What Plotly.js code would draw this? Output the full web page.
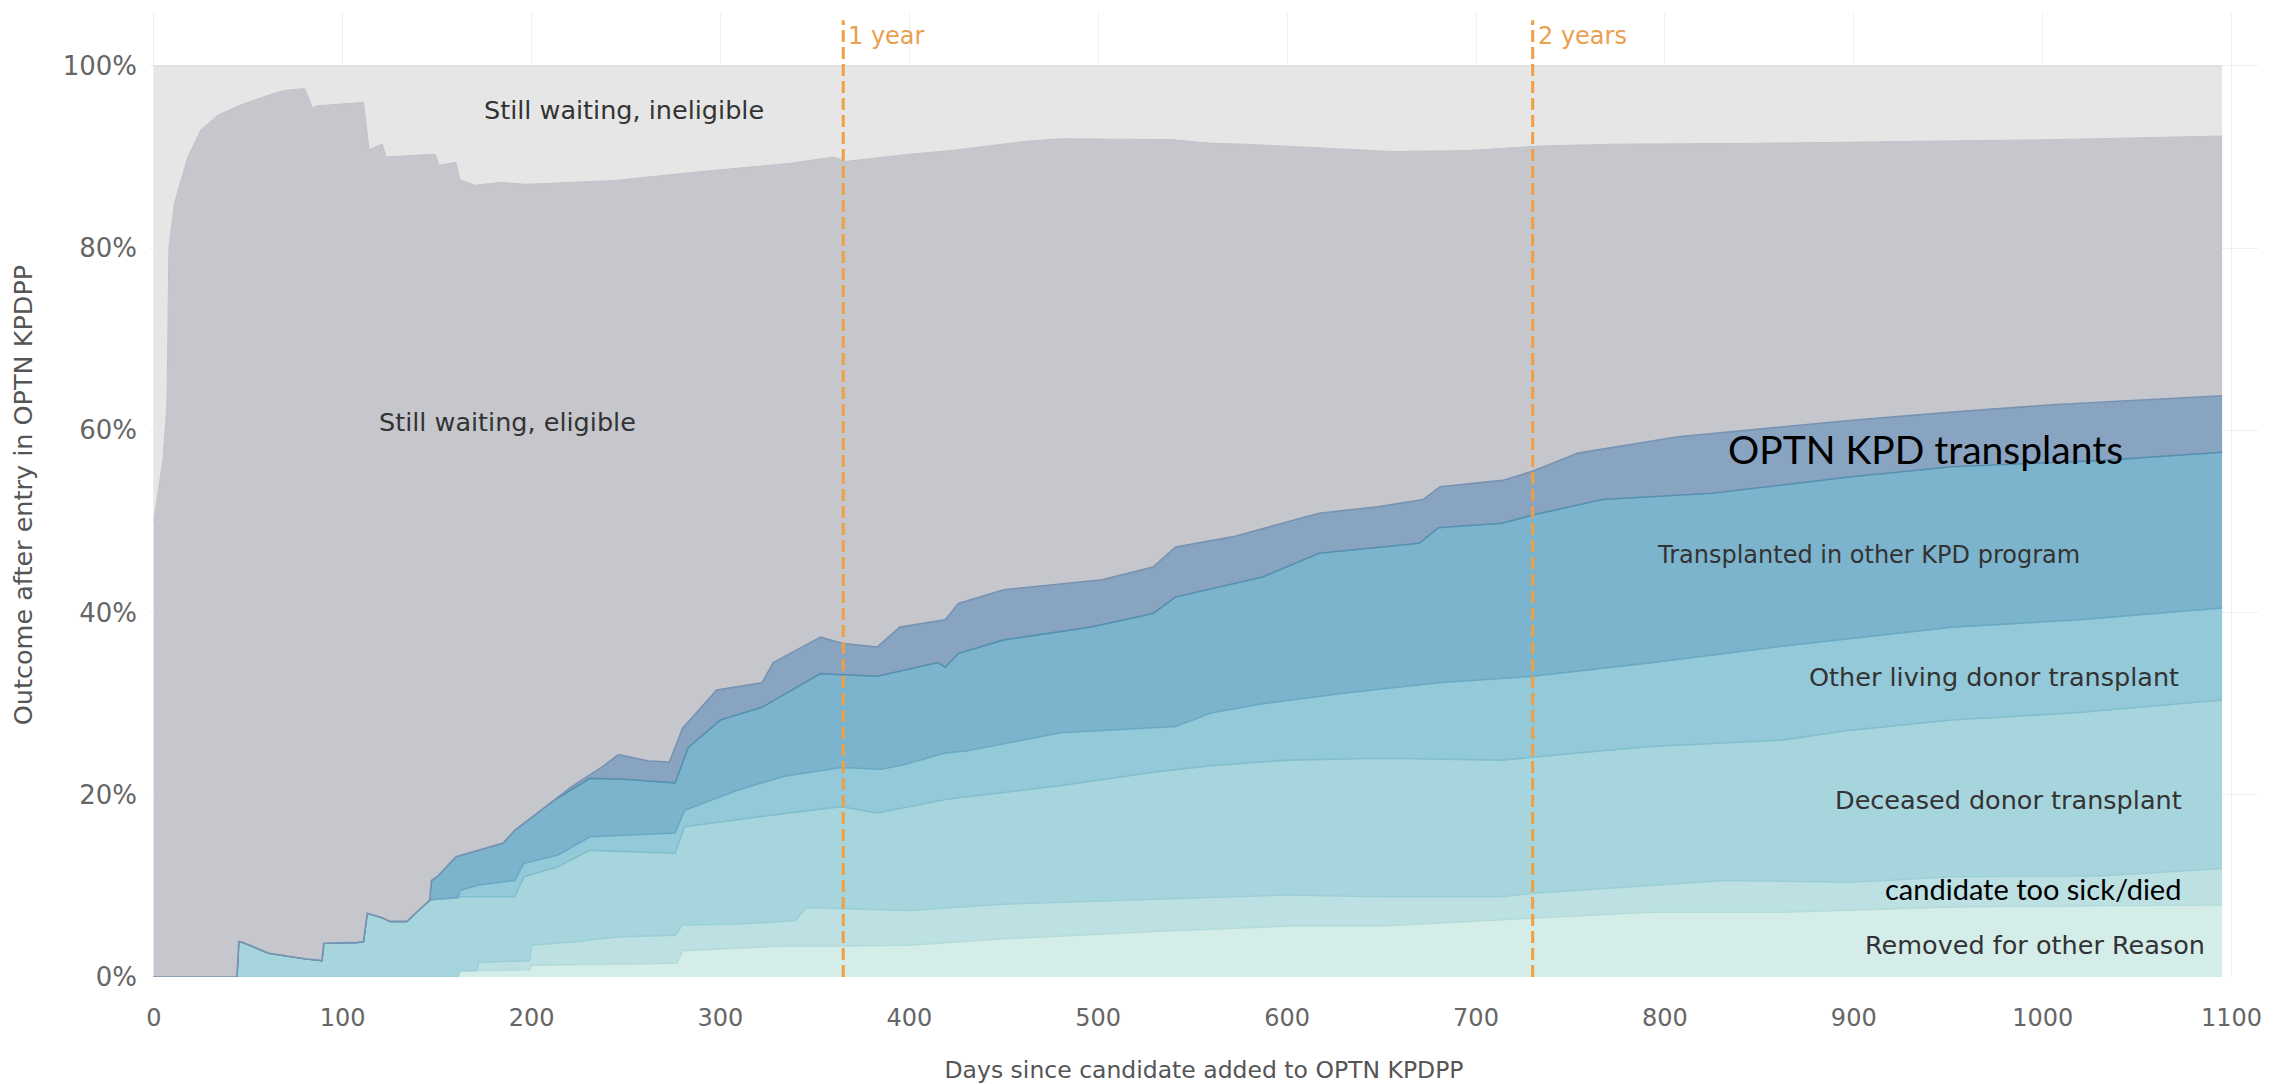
<!DOCTYPE html>
<html>
<head>
<meta charset="utf-8">
<script src="https://cdn.plot.ly/plotly-3.0.1.min.js"></script>
<style>html,body{margin:0;padding:0;background:#fff;}#chart{width:2284px;height:1084px;}</style>
</head>
<body>
<div id="chart"></div>
<script>
// ---- Data: cumulative upper boundary (% of candidates) of each stacked outcome band ----
const removedDays = [0,161,162,199,200,277,280,333,365,400,450,530,600,650,714,793,862,952,1095];
const removedTop  = [0,0,0.7,0.8,1.3,1.5,2.9,3.4,3.4,3.5,4.2,5.0,5.6,5.6,6.3,7.1,7.1,7.7,7.9];

const sickDays = [0,161,162,171,172,199,200,225,245,276,280,309,340,345,365,400,450,530,600,650,714,730,793,833,899,952,1030,1095];
const sickTop  = [0,0,0.7,0.7,1.6,1.8,3.5,3.9,4.4,4.6,5.7,5.8,6.2,7.6,7.5,7.3,8.0,8.5,9.0,8.8,8.8,9.2,10.1,10.6,10.4,11.0,11.1,11.9];

const deceasedDays = [0,44,45,47,61,80,89,90,108,111,113,121,125,134,140,146,148,162,191,196,214,231,276,281,321,364,383,420,480,530,560,600,650,714,754,793,862,899,952,1018,1095];
const deceasedTop  = [0,0,3.9,3.8,2.6,2.0,1.8,3.7,3.8,3.9,7.0,6.5,6.1,6.1,7.3,8.4,8.5,8.8,8.8,11.0,12.1,13.9,13.6,16.5,17.6,18.7,18.0,19.5,21.0,22.5,23.2,23.8,24.0,23.8,24.6,25.3,26.0,27.1,28.2,29.0,30.4];

const livingDays = [0,44,45,47,61,80,89,90,108,111,113,121,125,134,140,146,148,161,162,172,191,196,214,231,276,281,309,333,364,385,397,419,430,480,541,560,587,632,680,714,730,793,862,952,1018,1095];
const livingTop  = [0,0,3.9,3.8,2.6,2.0,1.8,3.7,3.8,3.9,7.0,6.5,6.1,6.1,7.3,8.4,8.5,8.7,9.5,10.1,10.6,12.5,13.4,15.4,15.8,18.3,20.5,22.0,23.0,22.8,23.3,24.6,24.8,26.8,27.5,29.0,30.0,31.2,32.3,32.8,33.0,34.5,36.3,38.4,39.2,40.5];

const otherKpdDays = [0,44,45,47,61,80,89,90,108,111,113,121,125,134,140,146,147,150,160,172,185,191,203,212,231,249,276,283,300,322,353,365,383,415,419,426,450,496,529,541,587,617,670,680,714,730,767,825,899,952,1032,1095];
const otherKpdTop  = [0,0,3.9,3.8,2.6,2.0,1.8,3.7,3.8,3.9,7.0,6.5,6.1,6.1,7.3,8.4,10.6,11.0,13.2,13.9,14.7,16.1,18.0,19.4,21.8,21.7,21.3,25.2,28.2,29.6,33.3,33.2,33.0,34.5,34.0,35.5,37.0,38.4,39.9,41.7,43.9,46.5,47.6,49.3,49.8,50.7,52.4,53.1,54.9,56.0,56.7,57.6];

const optnKpdDays = [0,44,45,47,61,80,89,90,108,111,113,121,125,134,140,146,147,150,160,172,185,191,203,212,222,237,246,262,273,280,298,322,328,353,365,383,395,419,426,450,502,529,541,571,617,648,672,681,714,730,754,807,899,952,1005,1095];
const optnKpdTop  = [0,0,3.9,3.8,2.6,2.0,1.8,3.7,3.8,3.9,7.0,6.5,6.1,6.1,7.3,8.4,10.6,11.0,13.2,13.9,14.7,16.1,18.0,19.4,21.0,23.0,24.4,23.7,23.6,27.3,31.5,32.3,34.5,37.3,36.6,36.2,38.4,39.2,41.0,42.5,43.6,45.0,47.2,48.3,50.9,51.6,52.4,53.8,54.5,55.5,57.5,59.3,61.1,62.0,62.8,63.8];

const eligibleDays = [0,5,7,8,11,18,25,34,46,61,69,80,84,86,111,114,121,123,149,151,160,162,170,184,197,243,290,337,360,366,400,422,461,480,539,560,578,656,695,734,773,850,928,1006,1095];
const eligibleTop  = [50,57,63,80,85,90,93,94.6,95.7,96.8,97.3,97.5,95.4,95.6,96.0,90.8,91.4,90.0,90.3,89.1,89.4,87.5,86.9,87.2,87.0,87.4,88.4,89.3,90.0,89.5,90.3,90.7,91.7,92.0,91.9,91.5,91.4,90.6,90.7,91.2,91.4,91.5,91.7,91.9,92.3];

const ineligibleDays = [0,1095];
const ineligibleTop  = [100,100];

const bandNames = ["Removed for other Reason","candidate too sick/died","Deceased donor transplant","Other living donor transplant","Transplanted in other KPD program","OPTN KPD transplants","Still waiting, eligible","Still waiting, ineligible"];

const yTickVals  = [0,0.2,0.4,0.6,0.8,1.0];
const yTickText  = ["0%","20%","40%","60%","80%","100%"];
const xTickVals  = [0,100,200,300,400,500,600,700,800,900,1000,1100];
const markerDays = [365,730];
const markerText = ["1 year","2 years"];

// ---- Styling ----
const fills = ["#d4ede8","#bde0e3","#a7d5dd","#93c9d8","#7db4cd","#88a4c0","#c5c7cc","#e6e6e6"];
const lines = ["#b5dcd9","#9ccfd6","#82bfcd","#69a9c3","#5590b0","#7893b2","#c0c2c7","#d9d9d9"];

const series = [
  [removedDays, removedTop],[sickDays, sickTop],[deceasedDays, deceasedTop],[livingDays, livingTop],
  [otherKpdDays, otherKpdTop],[optnKpdDays, optnKpdTop],[eligibleDays, eligibleTop],[ineligibleDays, ineligibleTop]
];

const traces = series.map((s,i)=>({
  type:'scatter', mode:'lines', name:bandNames[i],
  x:s[0], y:s[1].map(v=>v/100),
  fill: i===0 ? 'tozeroy' : 'tonexty',
  fillcolor: fills[i],
  line:{color:lines[i], width: (i>=6?1:1.6)},
  hoverinfo:'skip', showlegend:false
}));

const FONT = "'DejaVu Sans', Verdana, sans-serif";
const CAL = "Lato, 'Noto Sans', sans-serif";
const labelColor = "#333333";

const annotations = [
  {x:249, y:0.951, text:bandNames[7], font:{size:25.5,color:labelColor,family:FONT}},
  {x:187, y:0.609, text:bandNames[6], font:{size:25.5,color:labelColor,family:FONT}},
  {x:938, y:0.580, text:bandNames[5], font:{size:39,color:"#000000",family:CAL}},
  {x:908, y:0.463, text:bandNames[4], font:{size:24,color:labelColor,family:FONT}},
  {x:974, y:0.329, text:bandNames[3], font:{size:25.5,color:labelColor,family:FONT}},
  {x:982, y:0.194, text:bandNames[2], font:{size:25.5,color:labelColor,family:FONT}},
  {x:995, y:0.097, text:bandNames[1], font:{size:29,color:"#000000",family:CAL}},
  {x:996, y:0.035, text:bandNames[0], font:{size:25.5,color:labelColor,family:FONT}}
].map(a=>Object.assign({xref:'x',yref:'y',showarrow:false,xanchor:'center',yanchor:'middle'},a));

markerDays.forEach((d,i)=>{
  annotations.push({x:d, y:1.033, xref:'x', yref:'y', text:markerText[i], showarrow:false,
    xanchor:'left', yanchor:'middle', xshift:3, font:{size:24,color:"#e9a04f",family:FONT}});
});

const shapes = markerDays.map(d=>({
  type:'line', xref:'x', yref:'y', x0:d, x1:d, y0:0, y1:1.05,
  line:{color:"#f0a040", width:3, dash:"12px,5px"}, layer:'above'
}));

const layout = {
  width:2284, height:1084,
  margin:{l:150, r:26, t:13, b:107},
  paper_bgcolor:'#ffffff', plot_bgcolor:'#ffffff',
  font:{family:FONT, color:'#666666'},
  showlegend:false,
  xaxis:{
    range:[-2,1114], tickvals:xTickVals, ticks:'', showline:false, zeroline:false,
    showgrid:true, gridcolor:'#efefef', gridwidth:1,
    tickfont:{size:24,color:'#666666'}, ticklabelstandoff:24,
    title:{text:"Days since candidate added to OPTN KPDPP", font:{size:23.5,color:'#555555'}, standoff:30},
    automargin:false
  },
  yaxis:{
    range:[0,1.058], tickvals:yTickVals, ticktext:yTickText, ticks:'', showline:false, zeroline:false,
    showgrid:true, gridcolor:'#efefef', gridwidth:1,
    tickfont:{size:26,color:'#666666'}, ticklabelstandoff:12,
    title:{text:"Outcome after entry in OPTN KPDPP", font:{size:25.5,color:'#555555'}, standoff:22},
    automargin:false
  },
  annotations:annotations,
  shapes:shapes
};

Plotly.newPlot('chart', traces, layout, {displayModeBar:false, staticPlot:true});
</script>
</body>
</html>
